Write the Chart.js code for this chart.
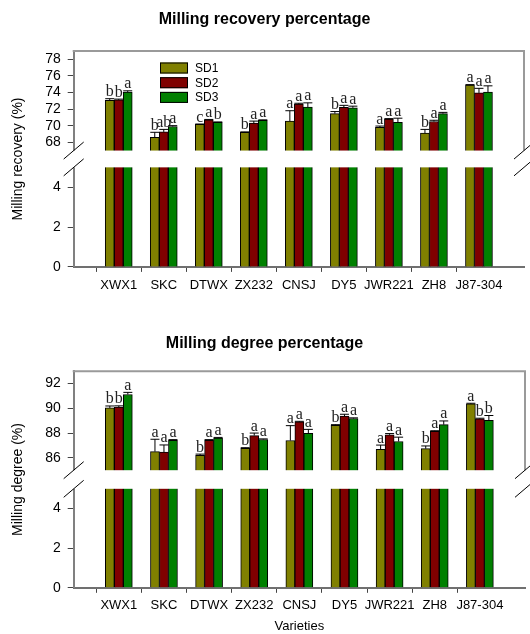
<!DOCTYPE html>
<html>
<head>
<meta charset="utf-8">
<script src="https://cdn.jsdelivr.net/npm/chart.js@4.4.1/dist/chart.umd.min.js"></script>
<style>
html, body { margin: 0; padding: 0; background: #fff; }
#wrap { position: relative; width: 530px; height: 634px; overflow: hidden; }
canvas { position: absolute; left: 0; }
</style>
</head>
<body>
<div id="wrap">
  <canvas id="recovery" width="530" height="305" style="top:0px"></canvas>
  <canvas id="degree" width="530" height="329" style="top:305px"></canvas>
</div>
<script>
const varieties = ['XWX1', 'SKC', 'DTWX', 'ZX232', 'CNSJ', 'DY5', 'JWR221', 'ZH8', 'J87-304'];
const seriesNames = ['SD1', 'SD2', 'SD3'];
const seriesColors = ['#808000', '#800000', '#008000'];

// Milling recovery (%)
const recoverySD1 = [73.05, 68.6, 70.15, 69.2, 70.55, 71.45, 69.8, 69.1, 74.9];
const recoverySD2 = [73.1, 69.25, 70.7, 70.3, 72.6, 72.2, 70.8, 70.5, 73.95];
const recoverySD3 = [74.05, 69.9, 70.4, 70.65, 72.25, 72.15, 70.4, 71.45, 74.05];
const recoveryErr1 = [0.2, 0.6, 0.05, 0.05, 1.25, 0.25, 0.15, 0.45, 0.05];
const recoveryErr2 = [0.1, 0.3, 0.05, 0.25, 0.1, 0.25, 0.05, 0.15, 0.55];
const recoveryErr3 = [0.15, 0.1, 0.05, 0.05, 0.5, 0.2, 0.5, 0.15, 0.75];
const recoveryLetters1 = ['b', 'b', 'c', 'b', 'a', 'b', 'a', 'b', 'a'];
const recoveryLetters2 = ['b', 'ab', 'a', 'a', 'a', 'a', 'a', 'a', 'a'];
const recoveryLetters3 = ['a', 'a', 'b', 'a', 'a', 'a', 'a', 'a', 'a'];
const recoveryTicks = [0, 2, 4, 68, 70, 72, 74, 76, 78];

// Milling degree (%)
const degreeSD1 = [90.03, 86.5, 86.2, 86.77, 87.4, 88.63, 86.68, 86.74, 90.36];
const degreeSD2 = [90.1, 86.47, 87.42, 87.8, 88.9, 89.37, 87.86, 88.14, 89.15];
const degreeSD3 = [91.12, 87.42, 87.6, 87.48, 87.97, 89.18, 87.32, 88.68, 89.04];
const degreeErr1 = [0.16, 1.0, 0.1, 0.05, 1.2, 0.05, 0.35, 0.22, 0.05];
const degreeErr2 = [0.1, 0.57, 0.05, 0.2, 0.05, 0.15, 0.1, 0.05, 0.05];
const degreeErr3 = [0.17, 0.05, 0.05, 0.05, 0.33, 0.05, 0.35, 0.3, 0.38];
const degreeLetters1 = ['b', 'a', 'b', 'b', 'a', 'b', 'a', 'b', 'a'];
const degreeLetters2 = ['b', 'a', 'a', 'a', 'a', 'a', 'a', 'a', 'b'];
const degreeLetters3 = ['a', 'a', 'a', 'a', 'a', 'a', 'a', 'a', 'b'];
const degreeTicks = [0, 2, 4, 86, 88, 90, 92];

const SANS = "'Liberation Sans', Arial, sans-serif";
const SERIF = "'Liberation Serif', 'Times New Roman', serif";

// linear scale with a break: [min, lowMax] at the bottom, [highMin, max] at the top
class BrokenScale extends Chart.LinearScale {
  buildTicks() {
    return this.options.tickValues.map(v => ({ value: v }));
  }
  getPixelForValue(v) {
    const o = this.options;
    const seg = (this.bottom - this.top - o.gap) / 2;
    if (v <= o.lowMax) return this.bottom - (v - this.min) / (o.lowMax - this.min) * seg;
    if (v >= o.highMin) return this.top + seg - (v - o.highMin) / (this.max - o.highMin) * seg;
    return this.bottom - seg - (v - o.lowMax) / (o.highMin - o.lowMax) * o.gap;
  }
  getValueForPixel(p) {
    const o = this.options;
    const seg = (this.bottom - this.top - o.gap) / 2;
    if (p >= this.bottom - seg) return this.min + (this.bottom - p) / seg * (o.lowMax - this.min);
    return o.highMin + (this.top + seg - p) / seg * (this.max - o.highMin);
  }
}
BrokenScale.id = 'broken';
BrokenScale.defaults = Chart.LinearScale.defaults;
Chart.register(BrokenScale);

function decor(values, errs, letters, withLegend) {
  return {
    id: 'decor',
    afterDatasetsDraw(chart) {
      const ctx = chart.ctx, a = chart.chartArea, y = chart.scales.y;
      const seg = (y.bottom - y.top - y.options.gap) / 2;
      const gTop = y.top + seg, gBot = y.bottom - seg;
      ctx.save();
      ctx.fillStyle = '#fff';
      ctx.fillRect(a.left - 4, gTop, a.right - a.left + 8, gBot - gTop);

      ctx.strokeStyle = '#9a9a9a';
      ctx.lineWidth = 2;
      ctx.beginPath();
      ctx.moveTo(a.left - 1, a.top);
      ctx.lineTo(a.right, a.top);
      ctx.lineTo(a.right, gTop);
      ctx.stroke();

      ctx.strokeStyle = '#000';
      ctx.lineWidth = 1;
      [a.left, a.right].forEach(x => {
        [gTop, gBot].forEach(yy => {
          ctx.beginPath();
          ctx.moveTo(x - 10, yy + 8.5);
          ctx.lineTo(x + 10, yy - 8.5);
          ctx.stroke();
        });
      });

      ctx.font = '16px ' + SERIF;
      ctx.textAlign = 'center';
      ctx.textBaseline = 'alphabetic';
      values.forEach((vals, d) => {
        const meta = chart.getDatasetMeta(d);
        vals.forEach((v, i) => {
          const bar = meta.data[i + 1];
          const yv = y.getPixelForValue(v);
          const yt = y.getPixelForValue(v + errs[d][i]);
          ctx.strokeStyle = '#000';
          ctx.beginPath();
          ctx.moveTo(bar.x, yv);
          ctx.lineTo(bar.x, yt);
          ctx.moveTo(bar.x - 4.5, yt);
          ctx.lineTo(bar.x + 4.5, yt);
          ctx.stroke();
          ctx.fillStyle = '#222';
          ctx.fillText(letters[d][i], bar.x, yt - 2.5);
        });
      });

      if (withLegend) {
        ctx.font = '12px ' + SANS;
        ctx.textAlign = 'left';
        ctx.textBaseline = 'middle';
        seriesNames.forEach((name, k) => {
          const top = 62.5 + k * 14.7;
          ctx.fillStyle = seriesColors[k];
          ctx.fillRect(160, top, 28, 11);
          ctx.strokeStyle = '#000';
          ctx.strokeRect(160.5, top + 0.5, 27, 10);
          ctx.fillStyle = '#000';
          ctx.fillText(name, 195, top + 6);
        });
      }
      ctx.restore();
    }
  };
}

function makePanel(id, o) {
  const values = [o.sd1, o.sd2, o.sd3];
  new Chart(document.getElementById(id), {
    type: 'bar',
    data: {
      labels: ['', ...varieties, ''],
      datasets: values.map((vals, k) => ({
        label: seriesNames[k],
        data: [null, ...vals, null],
        backgroundColor: seriesColors[k],
        borderColor: '#000',
        borderWidth: 1,
        barThickness: 9
      }))
    },
    options: {
      responsive: false,
      animation: false,
      events: [],
      layout: { padding: { left: 0, right: 1, top: 0, bottom: o.padBottom } },
      plugins: {
        legend: { display: false },
        tooltip: { enabled: false },
        title: {
          display: true,
          text: o.title,
          color: '#000',
          font: { family: SANS, size: 16, weight: 'bold' },
          padding: { top: o.titleTop, bottom: o.titleBottom }
        }
      },
      scales: {
        x: {
          type: 'category',
          offset: false,
          border: { color: '#707070', width: 2 },
          grid: {
            drawOnChartArea: false,
            tickLength: 5,
            tickColor: c => (c.index === 0 || c.index === varieties.length + 1) ? 'rgba(0,0,0,0)' : '#444'
          },
          ticks: { autoSkip: false, maxRotation: 0, padding: o.tickPad, color: '#000', font: { family: SANS, size: 13 } },
          title: {
            display: !!o.xTitle,
            text: o.xTitle || '',
            color: '#000',
            font: { family: SANS, size: 13 },
            padding: { top: 0, bottom: 0 }
          }
        },
        y: {
          type: 'broken',
          min: 0,
          max: o.max,
          lowMax: 5,
          highMin: o.highMin,
          gap: o.gap,
          tickValues: o.ticks,
          afterFit: s => { s.width = 73.7; },
          border: { color: '#808080', width: 2 },
          grid: { drawOnChartArea: false, tickLength: 6, tickColor: '#444' },
          ticks: { padding: 7, color: '#000', font: { family: SANS, size: 14 }, callback: v => String(v) },
          title: {
            display: true,
            text: o.yTitle,
            color: '#000',
            font: { family: SANS, size: 14 },
            padding: { top: 10, bottom: 0 }
          }
        }
      }
    },
    plugins: [decor(values, o.errs, o.letters, o.legend)]
  });
}

makePanel('recovery', {
  title: 'Milling recovery percentage',
  yTitle: 'Milling recovery (%)',
  sd1: recoverySD1, sd2: recoverySD2, sd3: recoverySD3,
  errs: [recoveryErr1, recoveryErr2, recoveryErr3],
  letters: [recoveryLetters1, recoveryLetters2, recoveryLetters3],
  ticks: recoveryTicks,
  max: 79, highMin: 67, gap: 16.8,
  titleTop: 10.4, titleBottom: 21.4, padBottom: 5.5, tickPad: 6,
  legend: true
});

makePanel('degree', {
  title: 'Milling degree percentage',
  yTitle: 'Milling degree (%)',
  xTitle: 'Varieties',
  sd1: degreeSD1, sd2: degreeSD2, sd3: degreeSD3,
  errs: [degreeErr1, degreeErr2, degreeErr3],
  letters: [degreeLetters1, degreeLetters2, degreeLetters3],
  ticks: degreeTicks,
  max: 93, highMin: 85, gap: 18.6,
  titleTop: 28.7, titleBottom: 18.3, padBottom: 0, tickPad: 5,
  legend: false
});
</script>
</body>
</html>
